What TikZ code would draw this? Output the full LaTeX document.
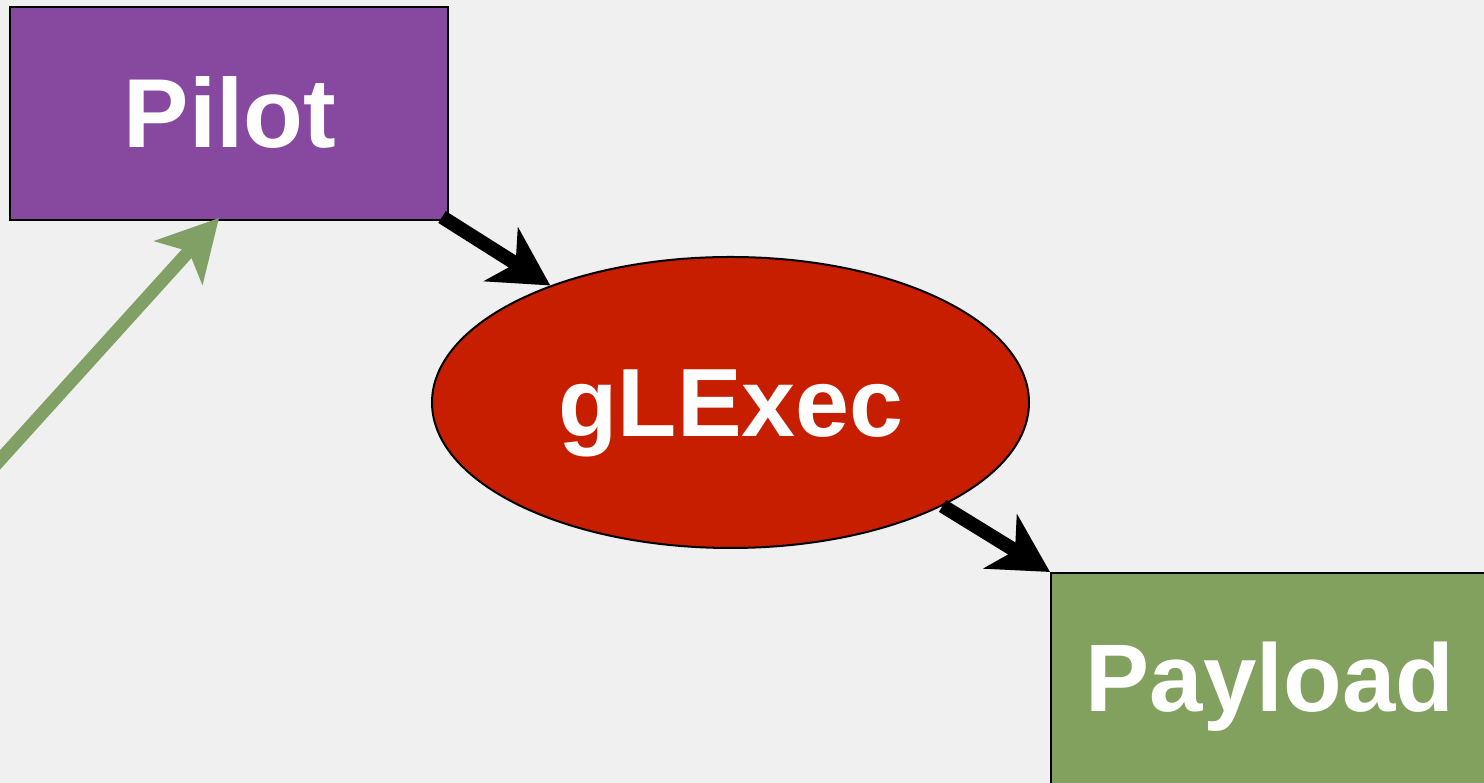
\documentclass[tikz,border=0pt]{standalone}
\usepackage{fontspec}
\setmainfont{Liberation Sans}
\usetikzlibrary{arrows.meta,shapes.geometric}
\definecolor{bg}{HTML}{F0F0F0}
\definecolor{pilotc}{HTML}{8748A0}
\definecolor{glc}{HTML}{C81E00}
\definecolor{payc}{HTML}{82A05E}
\definecolor{garrow}{HTML}{80A066}
\tikzset{
  boxshape/.style={draw=black, line width=2pt, inner sep=0pt},
  lbl/.style={text=white, font=\bfseries, anchor=base, inner sep=0pt},
  blackarrow/.style={draw=black, line width=14pt, -{Stealth[length=58pt, width=63pt, inset=17pt]}},
  greenarrow/.style={draw=garrow, line width=13pt, -{Stealth[length=60pt, width=64pt, inset=15pt]}}
}
\begin{document}
\begin{tikzpicture}[x=1pt,y=1pt]
\useasboundingbox (0,0) rectangle (1484,783);
\clip (0,0) rectangle (1484,783);
\fill[bg] (0,0) rectangle (1484,783);
\node[boxshape, fill=pilotc, rectangle, minimum width=438pt, minimum height=213pt] (pilot) at (229,669.5) {};
\node[boxshape, fill=glc, ellipse, minimum width=597pt, minimum height=291pt] (gl) at (730.5,380.5) {};
\node[boxshape, fill=payc, rectangle, minimum width=440pt, minimum height=220pt, anchor=north west] (pay) at (1050,211) {};
\node[lbl, font=\bfseries\fontsize{98}{98}\selectfont] (pilott) at (230,635) {Pilot};
\node[lbl, font=\bfseries\fontsize{97}{97}\selectfont] (glt) at (731,346) {gLExec};
\node[lbl, font=\bfseries\fontsize{96}{96}\selectfont] (payt) at (1270,71) {Payload};
\coordinate (gstart) at (-20,301);
\coordinate (gtip) at (219,565);
\coordinate (bstart) at ([shift={(-7,4)}]pilot.south east);
\draw[greenarrow] (gstart) -- (gtip);
\draw[blackarrow] (bstart) -- (gl.147.4);
\draw[blackarrow] (gl.-26) -- (pay.north west);
\end{tikzpicture}
\end{document}
